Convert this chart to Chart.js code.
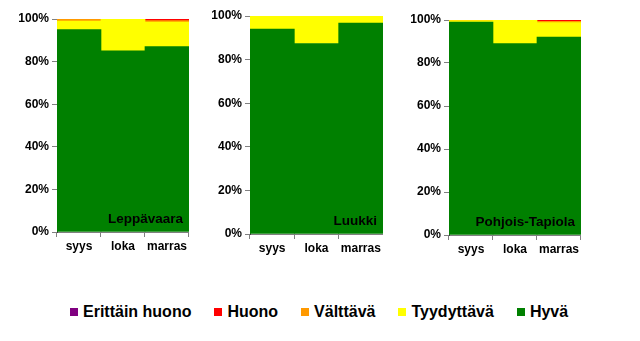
<!DOCTYPE html>
<html>
<head>
<meta charset="utf-8">
<script src="https://cdn.jsdelivr.net/npm/chart.js@4/dist/chart.umd.min.js"></script>
<style>
  html, body { margin:0; padding:0; background:#fff; }
  #wrap { position:relative; width:640px; height:341px; overflow:hidden; }
  canvas { position:absolute; }
  #legend { position:absolute; left:70px; top:303px; display:flex; gap:23px;
            font:bold 16px "Liberation Sans", Arial, sans-serif; color:#000; line-height:18px; }
  #legend .it { display:flex; align-items:center; }
  #legend .sw { width:8px; height:8px; margin-right:5px; }
</style>
</head>
<body>
<div id="wrap">
  <canvas id="c1" style="left:0px;top:0px;width:189px;height:262px"></canvas>
  <canvas id="c2" style="left:193px;top:0px;width:190px;height:262px"></canvas>
  <canvas id="c3" style="left:392px;top:0px;width:189px;height:262px"></canvas>
  <div id="legend"></div>
</div>
<script>
const categories = ["syys", "loka", "marras"];
const seriesNames = ["Erittäin huono", "Huono", "Välttävä", "Tyydyttävä", "Hyvä"];
const seriesColors = ["#800080", "#FF0000", "#FF9900", "#FFFF00", "#008000"];
const yTicks = [0, 20, 40, 60, 80, 100];

// Leppävaara
const lepErittain = [0, 0, 0];
const lepHuono = [0, 0, 0.8];
const lepValttava = [1, 0, 0.7];
const lepTyydyttava = [4, 15, 11.5];
const lepHyva = [95, 85, 87];
// Luukki
const luuErittain = [0, 0, 0];
const luuHuono = [0, 0, 0];
const luuValttava = [0, 0, 0];
const luuTyydyttava = [6, 12.6, 3.2];
const luuHyva = [94, 87.4, 96.8];
// Pohjois-Tapiola
const potErittain = [0, 0, 0];
const potHuono = [0, 0, 0.6];
const potValttava = [0.3, 0, 0.6];
const potTyydyttava = [0.7, 11, 6.8];
const potHyva = [99, 89, 92];

const panels = [
  { id: "c1", name: "Leppävaara", top: 19, xH: 30,
    data: [lepHyva, lepTyydyttava, lepValttava, lepHuono, lepErittain] },
  { id: "c2", name: "Luukki", top: 16, xH: 28,
    data: [luuHyva, luuTyydyttava, luuValttava, luuHuono, luuErittain] },
  { id: "c3", name: "Pohjois-Tapiola", top: 20, xH: 27,
    data: [potHyva, potTyydyttava, potValttava, potHuono, potErittain] }
];

const FONT = "'Liberation Sans', Arial, sans-serif";

const labelPlugin = {
  id: "panelLabel",
  afterDatasetsDraw(chart, args, opts) {
    const a = chart.chartArea, ctx = chart.ctx;
    ctx.save();
    ctx.font = "bold 13.5px " + FONT;
    ctx.fillStyle = "#000";
    ctx.textAlign = "right";
    ctx.textBaseline = "middle";
    ctx.fillText(opts.text, a.right - 6, a.bottom - 13);
    ctx.restore();
  }
};

panels.forEach(p => {
  // datasets ordered bottom to top: Hyvä first
  const order = [4, 3, 2, 1, 0];
  const datasets = order.map((si, k) => ({
    label: seriesNames[si],
    data: p.data[k],
    backgroundColor: seriesColors[si],
    borderWidth: 0,
    barPercentage: 1.0,
    categoryPercentage: 1.0
  }));
  new Chart(document.getElementById(p.id), {
    type: "bar",
    data: { labels: categories, datasets },
    plugins: [labelPlugin],
    options: {
      responsive: false,
      animation: false,
      devicePixelRatio: 1,
      layout: { padding: { top: p.top, right: 0, left: 0, bottom: 0 } },
      plugins: { legend: { display: false }, tooltip: { enabled: false },
                 panelLabel: { text: p.name } },
      scales: {
        x: {
          stacked: true,
          afterFit(s) { s.height = p.xH; },
          grid: { offset: true, drawOnChartArea: false, drawTicks: true, tickLength: 5, color: "#808080" },
          border: { display: true, color: "#808080" },
          ticks: { color: "#000", font: { family: FONT, size: 12, weight: "bold" }, padding: 2, maxRotation: 0 }
        },
        y: {
          stacked: true, min: 0, max: 100,
          afterFit(s) { s.width = 57; },
          afterBuildTicks(s) { s.ticks = yTicks.map(v => ({ value: v })); },
          grid: { drawOnChartArea: false, drawTicks: true, tickLength: 5, color: "#808080" },
          border: { display: true, color: "#404040" },
          ticks: { color: "#000", font: { family: FONT, size: 12, weight: "bold" }, padding: 3,
                   callback: v => v + "%" }
        }
      }
    }
  });
});

const leg = document.getElementById("legend");
seriesNames.forEach((n, i) => {
  const it = document.createElement("div");
  it.className = "it";
  const sw = document.createElement("span");
  sw.className = "sw";
  sw.style.background = seriesColors[i];
  const t = document.createElement("span");
  t.textContent = n;
  it.appendChild(sw); it.appendChild(t);
  leg.appendChild(it);
});
</script>
</body>
</html>
